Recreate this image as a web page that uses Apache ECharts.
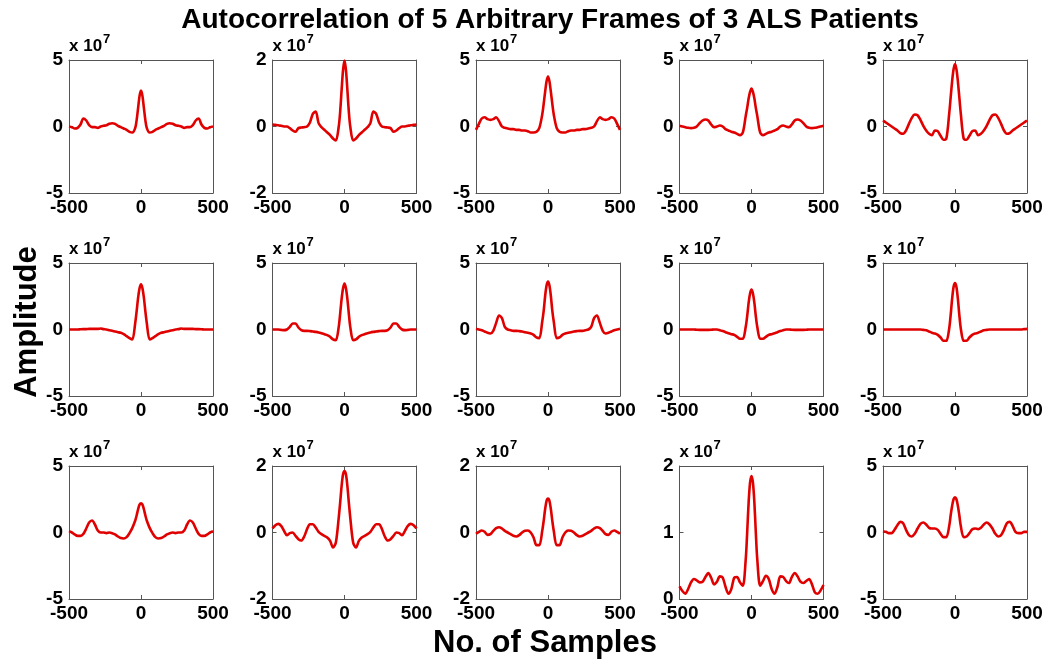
<!DOCTYPE html>
<html>
<head>
<meta charset="utf-8">
<script src="https://cdn.jsdelivr.net/npm/echarts@6/dist/echarts.min.js"></script>
<style>html,body{margin:0;padding:0;background:#fff}#c{width:1050px;height:664px}</style>
</head>
<body>
<div id="c"></div>
<script>
const TITLE = 'Autocorrelation of 5 Arbitrary Frames of 3 ALS Patients';
const X_NAME = 'No. of Samples';
const Y_NAME = 'Amplitude';
const X_TICKS = [-500, 0, 500];

// lags (samples)
const LAGS = [-500,-480,-460,-440,-420,-400,-380,-360,-340,-320,-300,-280,-260,-240,-220,-200,-180,-160,-140,-120,-100,-80,-60,
  -40,-30,-20,-10,0,10,20,30,40,
  60,80,100,120,140,160,180,200,220,240,260,280,300,320,340,360,380,400,420,440,460,480,500];

// amplitudes in units of 1e7
const P1 = [0,-0.05,-0.15,-0.1,0.15,0.6,0.45,0.1,-0.05,-0.05,-0.1,0,0.05,0.1,0.2,0.25,0.2,0.05,-0.05,-0.15,-0.25,-0.4,-0.45,
  -0.1,0.5,1.4,2.3,2.7,2.3,1.4,0.5,-0.1,
  -0.45,-0.4,-0.25,-0.15,-0.05,0.05,0.2,0.25,0.2,0.1,0.05,0,-0.1,-0.05,-0.05,0.1,0.45,0.6,0.15,-0.1,-0.15,-0.05,0];
const P2 = [0.06,0.05,0.04,0.02,0,0,-0.05,-0.12,-0.16,-0.05,-0.03,-0.02,0,0.12,0.38,0.45,0.1,-0.02,-0.1,-0.18,-0.26,-0.36,-0.42,
  0,0.45,1.1,1.7,1.98,1.7,1.1,0.45,0,
  -0.42,-0.36,-0.26,-0.18,-0.1,-0.02,0.1,0.45,0.38,0.12,0,-0.02,-0.03,-0.05,-0.16,-0.12,-0.05,0,0,0.02,0.04,0.05,0.06];
const P3 = [-0.25,0.2,0.6,0.7,0.55,0.5,0.55,0.7,0.4,0,-0.1,-0.15,-0.2,-0.2,-0.25,-0.25,-0.3,-0.3,-0.35,-0.45,-0.45,-0.4,-0.1,
  0.9,1.7,2.6,3.4,3.75,3.4,2.6,1.7,0.9,
  -0.1,-0.4,-0.45,-0.45,-0.35,-0.3,-0.3,-0.25,-0.25,-0.2,-0.2,-0.15,-0.1,0,0.4,0.7,0.55,0.5,0.55,0.7,0.6,0.2,-0.25];
const P4 = [0.05,0,-0.05,-0.1,-0.12,-0.1,0,0.25,0.45,0.53,0.45,0.15,-0.05,0,0.07,0,-0.2,-0.3,-0.4,-0.45,-0.55,-0.65,-0.45,
  0.8,1.4,2.1,2.6,2.85,2.6,2.1,1.4,0.8,
  -0.45,-0.65,-0.55,-0.45,-0.4,-0.3,-0.2,0,0.07,0,-0.05,0.15,0.45,0.53,0.45,0.25,0,-0.1,-0.12,-0.1,-0.05,0,0.05];
const P5 = [0.45,0.3,0.15,0,-0.15,-0.3,-0.5,-0.55,-0.3,0.2,0.65,0.9,0.85,0.5,0.05,-0.3,-0.55,-0.65,-0.3,-0.35,-0.7,-1.0,-0.9,
  1.0,2.2,3.4,4.3,4.7,4.3,3.4,2.2,1.0,
  -0.9,-1.0,-0.7,-0.35,-0.3,-0.65,-0.55,-0.3,0.05,0.5,0.85,0.9,0.65,0.2,-0.3,-0.55,-0.5,-0.3,-0.15,0,0.15,0.3,0.45];
const P6 = [0,0,0,0,0.02,0.03,0.03,0.05,0.05,0.05,0.05,0.07,0.03,0,-0.05,-0.1,-0.15,-0.2,-0.25,-0.35,-0.5,-0.65,-0.75,
  0.5,1.4,2.4,3.1,3.4,3.1,2.4,1.4,0.5,
  -0.75,-0.65,-0.5,-0.35,-0.25,-0.2,-0.15,-0.1,-0.05,0,0.03,0.07,0.05,0.05,0.05,0.05,0.03,0.03,0.02,0,0,0,0];
const P7 = [0,0,0,-0.03,-0.05,0,0.2,0.45,0.45,0.15,-0.05,-0.1,-0.1,-0.12,-0.15,-0.18,-0.22,-0.28,-0.35,-0.42,-0.55,-0.75,-0.8,
  0.2,1.2,2.3,3.1,3.45,3.1,2.3,1.2,0.2,
  -0.8,-0.75,-0.55,-0.42,-0.35,-0.28,-0.22,-0.18,-0.15,-0.12,-0.1,-0.1,-0.05,0.15,0.45,0.45,0.2,0,-0.05,-0.03,0,0,0];
const P8 = [0.05,0,-0.05,-0.15,-0.25,-0.3,-0.1,0.5,1.05,0.85,0.2,0,-0.05,-0.1,-0.1,-0.12,-0.15,-0.2,-0.25,-0.3,-0.4,-0.6,-0.65,
  0.6,1.4,2.5,3.3,3.6,3.3,2.5,1.4,0.6,
  -0.65,-0.6,-0.4,-0.3,-0.25,-0.2,-0.15,-0.12,-0.1,-0.1,-0.05,0,0.2,0.85,1.05,0.5,-0.1,-0.3,-0.25,-0.15,-0.05,0,0.05];
const P9 = [0,0,0,0,0,0,-0.02,-0.03,-0.03,-0.03,-0.03,-0.02,0,0,-0.05,-0.12,-0.2,-0.28,-0.35,-0.4,-0.55,-0.7,-0.7,
  0.2,1.0,2.0,2.7,3.0,2.7,2.0,1.0,0.2,
  -0.7,-0.7,-0.55,-0.4,-0.35,-0.28,-0.2,-0.12,-0.05,0,0,-0.02,-0.03,-0.03,-0.03,-0.03,-0.02,0,0,0,0,0,0];
const P10 = [0,0,0,0,0,0,0,0,0,0,0,0,0,0,-0.03,-0.05,-0.15,-0.25,-0.3,-0.4,-0.6,-0.85,-0.85,
  0.1,1.1,2.3,3.2,3.5,3.2,2.3,1.1,0.1,
  -0.85,-0.85,-0.6,-0.4,-0.3,-0.25,-0.15,-0.05,-0.03,0,0,0,0,0,0,0,0,0,0,0,0,0.03,0.05];
const P11 = [0.1,0,-0.15,-0.25,-0.25,-0.1,0.3,0.75,0.9,0.6,0.15,0,0,-0.05,0,-0.05,-0.15,-0.3,-0.42,-0.45,-0.35,-0.05,0.35,
  0.9,1.3,1.75,2.1,2.2,2.1,1.75,1.3,0.9,
  0.35,-0.05,-0.35,-0.45,-0.42,-0.3,-0.15,-0.05,0,-0.05,0,0,0.15,0.6,0.9,0.75,0.3,-0.1,-0.25,-0.25,-0.15,0,0.1];
const P12 = [0.12,0.22,0.26,0.2,0.05,-0.08,-0.02,0,-0.1,-0.2,-0.24,-0.12,0.1,0.25,0.25,0.15,0.02,-0.05,-0.1,-0.15,-0.25,-0.45,-0.3,
  0.45,0.9,1.4,1.75,1.85,1.75,1.4,0.9,0.45,
  -0.3,-0.45,-0.25,-0.15,-0.1,-0.05,0.02,0.15,0.25,0.25,0.1,-0.12,-0.24,-0.2,-0.1,0,-0.02,-0.08,0.05,0.2,0.26,0.22,0.12];
const P13 = [-0.04,0.02,0.06,0.02,-0.07,-0.05,0.05,0.13,0.16,0.12,0.05,0,-0.05,-0.1,-0.12,-0.08,0,0.05,0.06,0,-0.15,-0.38,-0.38,
  0.05,0.35,0.7,0.95,1.02,0.95,0.7,0.35,0.05,
  -0.38,-0.38,-0.15,0,0.06,0.05,0,-0.08,-0.12,-0.1,-0.05,0,0.05,0.12,0.16,0.13,0.05,-0.05,-0.07,0.02,0.06,0.02,-0.04];
const P14 = [0.19,0.12,0.08,0.15,0.25,0.3,0.28,0.25,0.26,0.33,0.39,0.32,0.22,0.26,0.34,0.32,0.18,0.08,0.15,0.32,0.33,0.25,0.2,
  0.6,1.0,1.45,1.75,1.85,1.75,1.45,1.0,0.6,
  0.2,0.27,0.35,0.3,0.15,0.08,0.18,0.34,0.33,0.27,0.24,0.33,0.39,0.34,0.26,0.24,0.27,0.3,0.22,0.1,0.08,0.13,0.21];
const P15 = [0.1,0.05,-0.05,-0.05,0.2,0.55,0.8,0.7,0.2,-0.2,-0.3,-0.1,0.3,0.65,0.75,0.6,0.35,0.3,0.3,0.2,-0.1,-0.35,-0.35,
  0.5,1.3,2.0,2.5,2.65,2.5,2.0,1.3,0.5,
  -0.35,-0.3,-0.05,0.25,0.3,0.25,0.35,0.6,0.75,0.6,0.3,-0.1,-0.3,-0.2,0.2,0.7,0.8,0.5,0.05,-0.05,-0.05,0.05,0.05];

const SERIES = [P1,P2,P3,P4,P5,P6,P7,P8,P9,P10,P11,P12,P13,P14,P15];
const Y_MIN  = [-5,-2,-5,-5,-5, -5,-5,-5,-5,-5, -5,-2,-2,0,-5];
const Y_MAX  = [ 5, 2, 5, 5, 5,  5, 5, 5, 5, 5,  5, 2, 2,2, 5];
const Y_STEP = [ 5, 2, 5, 5, 5,  5, 5, 5, 5, 5,  5, 2, 2,1, 5];

const FONT = 'Arial, "Liberation Sans", Helvetica, sans-serif';
const BOX = '#555555';
const LINE = '#e00000';

const grids = [], xAxes = [], yAxes = [], series = [];
for (let i = 0; i < SERIES.length; i++) {
  const r = Math.floor(i / 5), c = i % 5;
  grids.push({left: 69 + c * 203.5, top: 60 + r * 203, width: 144, height: 133, containLabel: false});
  const tick = {show: true, inside: true, length: 4, lineStyle: {color: BOX, width: 1}};
  const axLine = {show: true, onZero: false, lineStyle: {color: BOX, width: 1}};
  xAxes.push({type: 'value', gridIndex: i, position: 'bottom', min: X_TICKS[0], max: X_TICKS[2], interval: 500,
    axisLine: axLine, axisTick: tick, splitLine: {show: false},
    axisLabel: {show: true, color: '#000', fontSize: 19, fontWeight: 'bold', fontFamily: FONT, margin: 5}});
  xAxes.push({type: 'value', gridIndex: i, position: 'top', min: X_TICKS[0], max: X_TICKS[2], interval: 500,
    axisLine: axLine, axisTick: tick, splitLine: {show: false}, axisLabel: {show: false}});
  yAxes.push({type: 'value', gridIndex: i, position: 'left', min: Y_MIN[i], max: Y_MAX[i], interval: Y_STEP[i],
    axisLine: axLine, axisTick: tick, splitLine: {show: false},
    axisLabel: {show: true, color: '#000', fontSize: 19, fontWeight: 'bold', fontFamily: FONT, margin: 6},
    name: '{b|x 10}{s|7}', nameLocation: 'end', nameGap: 5,
    nameTextStyle: {align: 'left', verticalAlign: 'bottom', color: '#000', fontFamily: FONT,
      rich: {b: {fontSize: 17, fontWeight: 'bold', fontFamily: FONT, color: '#000', verticalAlign: 'bottom'},
             s: {fontSize: 13, fontWeight: 'bold', fontFamily: FONT, color: '#000', verticalAlign: 'bottom', padding: [0, 0, 9, 1]}}}});
  yAxes.push({type: 'value', gridIndex: i, position: 'right', min: Y_MIN[i], max: Y_MAX[i], interval: Y_STEP[i],
    axisLine: axLine, axisTick: tick, splitLine: {show: false}, axisLabel: {show: false}});
  series.push({type: 'line', xAxisIndex: 2 * i, yAxisIndex: 2 * i, showSymbol: false, smooth: 0.3, clip: true,
    lineStyle: {color: LINE, width: 2.6}, silent: true, animation: false,
    data: LAGS.map((x, k) => [x, SERIES[i][k]])});
}

const chart = echarts.init(document.getElementById('c'), null, {renderer: 'canvas'});
chart.setOption({
  backgroundColor: '#fff',
  animation: false,
  title: {text: TITLE, left: 545, textAlign: 'center', top: 1,
    textStyle: {fontSize: 28, fontWeight: 'bold', color: '#000', fontFamily: FONT}},
  grid: grids, xAxis: xAxes, yAxis: yAxes, series: series,
  graphic: [
    {type: 'text', x: 27, y: 322, rotation: Math.PI / 2,
      style: {text: Y_NAME, font: 'bold 31px ' + FONT, fill: '#000', align: 'center', verticalAlign: 'middle', textAlign: 'center', textVerticalAlign: 'middle'}},
    {type: 'text', x: 545, y: 643,
      style: {text: X_NAME, font: 'bold 31px ' + FONT, fill: '#000', align: 'center', verticalAlign: 'middle', textAlign: 'center', textVerticalAlign: 'middle'}}
  ]
});
</script>
</body>
</html>
